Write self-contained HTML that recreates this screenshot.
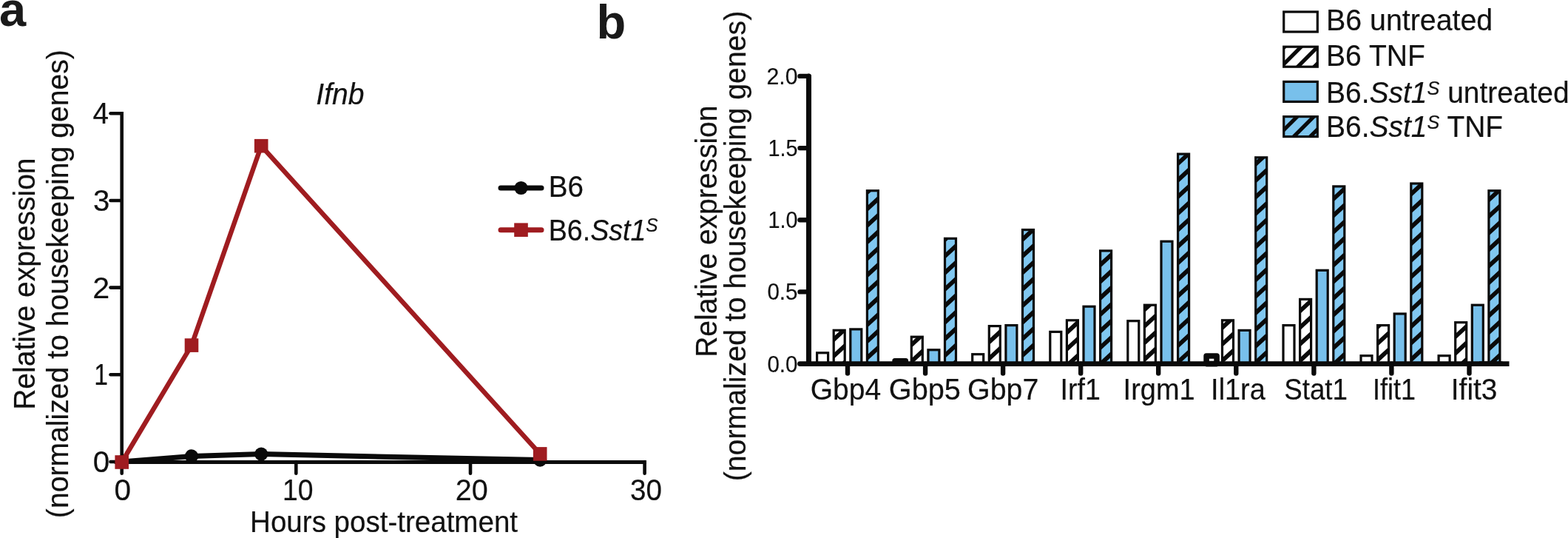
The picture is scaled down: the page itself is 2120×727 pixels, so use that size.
<!DOCTYPE html>
<html lang="en"><head><meta charset="utf-8"><title>Figure</title>
<style>
html,body{margin:0;padding:0;background:#fff;}
body{width:2120px;height:727px;overflow:hidden;}
svg{display:block;}
text{white-space:pre;stroke:#111;stroke-width:0.2px;stroke-linejoin:round;}
</style></head><body>
<svg width="2120" height="727" viewBox="0 0 2120 727" font-family='"Liberation Sans", Arial, Helvetica, sans-serif' fill="#111">
<rect width="2120" height="727" fill="#fff"/>
<g id="panelA">
<text x="-0.9" y="35.2" font-size="65" font-weight="bold" fill="#1a1a1a" style="stroke-width:0">a</text>
<text transform="translate(427.35,141.10) scale(0.9762,1)" font-size="40" font-style="italic">Ifnb</text>
<text transform="translate(46.80,553.83) rotate(-90) scale(0.9755,1)" font-size="40">Relative expression</text>
<text transform="translate(92.10,700.14) rotate(-90) scale(0.9785,1)" font-size="40">(normalized to housekeeping genes)</text>
<g stroke="#0a0a0a" stroke-width="4.6" fill="none" stroke-linecap="butt">
<path d="M164.7 151.0 V626.3"/>
<path d="M149.5 624.0 H164.7" stroke-linecap="round"/>
<path d="M154.7 624.4 H873.9" stroke-width="5.0"/>
<path d="M149.5 506.3 H164.7" stroke-linecap="round"/>
<path d="M149.5 388.6 H164.7" stroke-linecap="round"/>
<path d="M149.5 271.0 H164.7" stroke-linecap="round"/>
<path d="M149.5 153.3 H164.7" stroke-linecap="round"/>
<path d="M164.7 624.0 V639.8" stroke-linecap="round"/>
<path d="M400.3 624.0 V639.8" stroke-linecap="round"/>
<path d="M636.0 624.0 V639.8" stroke-linecap="round"/>
<path d="M871.6 624.0 V639.8" stroke-linecap="round"/>
</g>
<text transform="translate(125.63,638.00) scale(0.9842,1)" font-size="41">0</text>
<text transform="translate(127.33,520.33) scale(0.8222,1)" font-size="41">1</text>
<text transform="translate(125.19,402.65) scale(1.0053,1)" font-size="41">2</text>
<text transform="translate(126.04,284.98) scale(0.9789,1)" font-size="41">3</text>
<text transform="translate(125.56,167.30) scale(0.9429,1)" font-size="41">4</text>
<text transform="translate(154.42,676.10) scale(0.9895,1)" font-size="41">0</text>
<text transform="translate(382.07,676.10) scale(0.9098,1)" font-size="41">10</text>
<text transform="translate(615.77,676.10) scale(0.9643,1)" font-size="41">20</text>
<text transform="translate(852.11,676.10) scale(0.9429,1)" font-size="41">30</text>
<text transform="translate(338.11,718.60) scale(0.9637,1)" font-size="40">Hours post-treatment</text>
<polyline points="164.7,624.0 259.0,616.4 353.2,613.6 730.2,621.6" fill="none" stroke="#0a0a0a" stroke-width="7" stroke-linejoin="round"/>
<circle cx="164.7" cy="624.0" r="9.1" fill="#0a0a0a"/>
<circle cx="259.0" cy="616.4" r="9.1" fill="#0a0a0a"/>
<circle cx="353.2" cy="613.6" r="9.1" fill="#0a0a0a"/>
<circle cx="730.2" cy="621.6" r="9.1" fill="#0a0a0a"/>
<polyline points="164.7,624.5 259.0,466.6 353.2,197.2 730.2,613.4" fill="none" stroke="#9f1c20" stroke-width="6.4" stroke-linejoin="miter"/>
<rect x="155.4" y="615.2" width="18.6" height="18.6" fill="#9f1c20"/>
<rect x="249.7" y="457.3" width="18.6" height="18.6" fill="#9f1c20"/>
<rect x="343.9" y="187.9" width="18.6" height="18.6" fill="#9f1c20"/>
<rect x="720.9" y="604.1" width="18.6" height="18.6" fill="#9f1c20"/>
<path d="M677 254 H732" stroke="#0a0a0a" stroke-width="7" stroke-linecap="round"/>
<circle cx="704.5" cy="254" r="9.1" fill="#0a0a0a"/>
<text transform="translate(741.70,266.20) scale(0.9659,1)" font-size="40">B6</text>
<path d="M677 310.7 H732" stroke="#9f1c20" stroke-width="7" stroke-linecap="round"/>
<rect x="695.2" y="301.4" width="18.6" height="18.6" fill="#9f1c20"/>
<text transform="translate(741.78,324.90) scale(0.9396,1)" font-size="40">B6.<tspan font-style="italic">Sst1</tspan><tspan font-style="italic" font-size="26" dy="-11.5">S</tspan></text>
</g>
<g id="panelB">
<text x="806.4" y="52.3" font-size="65" font-weight="bold" fill="#1a1a1a" style="stroke-width:0">b</text>
<text transform="translate(969.20,482.82) rotate(-90) scale(0.9749,1)" font-size="40">Relative expression</text>
<text transform="translate(1007.50,650.35) rotate(-90) scale(0.9829,1)" font-size="40">(normalized to housekeeping genes)</text>
<defs>
</defs>
<rect x="1104.6" y="476.8" width="15.0" height="14.8" fill="#fff"/>
<rect x="1104.6" y="476.8" width="15.0" height="14.8" fill="none" stroke="#0a0a0a" stroke-width="3.2" stroke-linejoin="miter"/>
<rect x="1127.2" y="446.3" width="15.0" height="45.3" fill="#fff"/>
<clipPath id="c1"><rect x="1127.2" y="446.3" width="15.0" height="45.3"/></clipPath>
<g clip-path="url(#c1)" stroke="#0a0a0a" stroke-width="5.8">
<path d="M1114.9 425.4 L1154.9 388.6"/>
<path d="M1114.9 447.7 L1154.9 410.9"/>
<path d="M1114.9 470.1 L1154.9 433.3"/>
<path d="M1114.9 492.5 L1154.9 455.7"/>
<path d="M1114.9 514.8 L1154.9 478.0"/>
<path d="M1114.9 537.2 L1154.9 500.4"/>
</g>
<rect x="1127.2" y="446.3" width="15.0" height="45.3" fill="none" stroke="#0a0a0a" stroke-width="3.2" stroke-linejoin="miter"/>
<rect x="1149.8" y="444.9" width="15.0" height="46.7" fill="#78c0eb"/>
<rect x="1149.8" y="444.9" width="15.0" height="46.7" fill="none" stroke="#0a0a0a" stroke-width="3.2" stroke-linejoin="miter"/>
<rect x="1172.4" y="257.7" width="15.0" height="233.9" fill="#80c7f0"/>
<clipPath id="c2"><rect x="1172.4" y="257.7" width="15.0" height="233.9"/></clipPath>
<g clip-path="url(#c2)" stroke="#0a0a0a" stroke-width="5.8">
<path d="M1160.1 226.6 L1200.1 189.8"/>
<path d="M1160.1 248.9 L1200.1 212.1"/>
<path d="M1160.1 271.3 L1200.1 234.5"/>
<path d="M1160.1 293.7 L1200.1 256.9"/>
<path d="M1160.1 316.1 L1200.1 279.3"/>
<path d="M1160.1 338.4 L1200.1 301.6"/>
<path d="M1160.1 360.8 L1200.1 324.0"/>
<path d="M1160.1 383.2 L1200.1 346.4"/>
<path d="M1160.1 405.5 L1200.1 368.7"/>
<path d="M1160.1 427.9 L1200.1 391.1"/>
<path d="M1160.1 450.3 L1200.1 413.5"/>
<path d="M1160.1 472.6 L1200.1 435.8"/>
<path d="M1160.1 495.0 L1200.1 458.2"/>
<path d="M1160.1 517.4 L1200.1 480.6"/>
<path d="M1160.1 539.8 L1200.1 503.0"/>
</g>
<rect x="1172.4" y="257.7" width="15.0" height="233.9" fill="none" stroke="#0a0a0a" stroke-width="3.2" stroke-linejoin="miter"/>
<text transform="translate(1095.75,540.40) scale(0.9758,1)" font-size="40">Gbp4</text>
<rect x="1209.8" y="487.5" width="14.8" height="4.1" fill="#fff" stroke="#0a0a0a" stroke-width="7.0" stroke-linejoin="round"/>
<rect x="1232.3" y="455.2" width="15.0" height="36.4" fill="#fff"/>
<clipPath id="c3"><rect x="1232.3" y="455.2" width="15.0" height="36.4"/></clipPath>
<g clip-path="url(#c3)" stroke="#0a0a0a" stroke-width="5.8">
<path d="M1220.0 432.7 L1260.0 395.9"/>
<path d="M1220.0 455.0 L1260.0 418.2"/>
<path d="M1220.0 477.4 L1260.0 440.6"/>
<path d="M1220.0 499.8 L1260.0 463.0"/>
<path d="M1220.0 522.1 L1260.0 485.3"/>
<path d="M1220.0 544.5 L1260.0 507.7"/>
</g>
<rect x="1232.3" y="455.2" width="15.0" height="36.4" fill="none" stroke="#0a0a0a" stroke-width="3.2" stroke-linejoin="miter"/>
<rect x="1254.9" y="472.8" width="15.0" height="18.8" fill="#78c0eb"/>
<rect x="1254.9" y="472.8" width="15.0" height="18.8" fill="none" stroke="#0a0a0a" stroke-width="3.2" stroke-linejoin="miter"/>
<rect x="1277.5" y="322.3" width="15.0" height="169.3" fill="#80c7f0"/>
<clipPath id="c4"><rect x="1277.5" y="322.3" width="15.0" height="169.3"/></clipPath>
<g clip-path="url(#c4)" stroke="#0a0a0a" stroke-width="5.8">
<path d="M1265.2 290.4 L1305.2 253.6"/>
<path d="M1265.2 312.7 L1305.2 275.9"/>
<path d="M1265.2 335.1 L1305.2 298.3"/>
<path d="M1265.2 357.5 L1305.2 320.7"/>
<path d="M1265.2 379.9 L1305.2 343.1"/>
<path d="M1265.2 402.2 L1305.2 365.4"/>
<path d="M1265.2 424.6 L1305.2 387.8"/>
<path d="M1265.2 447.0 L1305.2 410.2"/>
<path d="M1265.2 469.3 L1305.2 432.5"/>
<path d="M1265.2 491.7 L1305.2 454.9"/>
<path d="M1265.2 514.1 L1305.2 477.3"/>
<path d="M1265.2 536.4 L1305.2 499.6"/>
</g>
<rect x="1277.5" y="322.3" width="15.0" height="169.3" fill="none" stroke="#0a0a0a" stroke-width="3.2" stroke-linejoin="miter"/>
<text transform="translate(1201.82,540.40) scale(0.9915,1)" font-size="40">Gbp5</text>
<rect x="1314.7" y="478.7" width="15.0" height="12.9" fill="#fff"/>
<rect x="1314.7" y="478.7" width="15.0" height="12.9" fill="none" stroke="#0a0a0a" stroke-width="3.2" stroke-linejoin="miter"/>
<rect x="1337.3" y="440.6" width="15.0" height="51.0" fill="#fff"/>
<clipPath id="c5"><rect x="1337.3" y="440.6" width="15.0" height="51.0"/></clipPath>
<g clip-path="url(#c5)" stroke="#0a0a0a" stroke-width="5.8">
<path d="M1325.0 406.4 L1365.0 369.6"/>
<path d="M1325.0 428.8 L1365.0 392.0"/>
<path d="M1325.0 451.2 L1365.0 414.4"/>
<path d="M1325.0 473.5 L1365.0 436.7"/>
<path d="M1325.0 495.9 L1365.0 459.1"/>
<path d="M1325.0 518.3 L1365.0 481.5"/>
<path d="M1325.0 540.6 L1365.0 503.8"/>
</g>
<rect x="1337.3" y="440.6" width="15.0" height="51.0" fill="none" stroke="#0a0a0a" stroke-width="3.2" stroke-linejoin="miter"/>
<rect x="1359.9" y="439.6" width="15.0" height="52.0" fill="#78c0eb"/>
<rect x="1359.9" y="439.6" width="15.0" height="52.0" fill="none" stroke="#0a0a0a" stroke-width="3.2" stroke-linejoin="miter"/>
<rect x="1382.5" y="310.5" width="15.0" height="181.1" fill="#80c7f0"/>
<clipPath id="c6"><rect x="1382.5" y="310.5" width="15.0" height="181.1"/></clipPath>
<g clip-path="url(#c6)" stroke="#0a0a0a" stroke-width="5.8">
<path d="M1370.2 290.2 L1410.2 253.4"/>
<path d="M1370.2 312.6 L1410.2 275.8"/>
<path d="M1370.2 334.9 L1410.2 298.1"/>
<path d="M1370.2 357.3 L1410.2 320.5"/>
<path d="M1370.2 379.7 L1410.2 342.9"/>
<path d="M1370.2 402.1 L1410.2 365.2"/>
<path d="M1370.2 424.4 L1410.2 387.6"/>
<path d="M1370.2 446.8 L1410.2 410.0"/>
<path d="M1370.2 469.2 L1410.2 432.4"/>
<path d="M1370.2 491.5 L1410.2 454.7"/>
<path d="M1370.2 513.9 L1410.2 477.1"/>
<path d="M1370.2 536.3 L1410.2 499.5"/>
</g>
<rect x="1382.5" y="310.5" width="15.0" height="181.1" fill="none" stroke="#0a0a0a" stroke-width="3.2" stroke-linejoin="miter"/>
<text transform="translate(1308.03,540.40) scale(0.9851,1)" font-size="40">Gbp7</text>
<rect x="1419.8" y="448.4" width="15.0" height="43.2" fill="#fff"/>
<rect x="1419.8" y="448.4" width="15.0" height="43.2" fill="none" stroke="#0a0a0a" stroke-width="3.2" stroke-linejoin="miter"/>
<rect x="1442.4" y="432.8" width="15.0" height="58.8" fill="#fff"/>
<clipPath id="c7"><rect x="1442.4" y="432.8" width="15.0" height="58.8"/></clipPath>
<g clip-path="url(#c7)" stroke="#0a0a0a" stroke-width="5.8">
<path d="M1430.1 393.6 L1470.1 356.8"/>
<path d="M1430.1 416.0 L1470.1 379.2"/>
<path d="M1430.1 438.4 L1470.1 401.6"/>
<path d="M1430.1 460.7 L1470.1 423.9"/>
<path d="M1430.1 483.1 L1470.1 446.3"/>
<path d="M1430.1 505.5 L1470.1 468.7"/>
<path d="M1430.1 527.8 L1470.1 491.0"/>
<path d="M1430.1 550.2 L1470.1 513.4"/>
</g>
<rect x="1442.4" y="432.8" width="15.0" height="58.8" fill="none" stroke="#0a0a0a" stroke-width="3.2" stroke-linejoin="miter"/>
<rect x="1465.0" y="414.2" width="15.0" height="77.4" fill="#78c0eb"/>
<rect x="1465.0" y="414.2" width="15.0" height="77.4" fill="none" stroke="#0a0a0a" stroke-width="3.2" stroke-linejoin="miter"/>
<rect x="1487.6" y="338.9" width="15.0" height="152.7" fill="#80c7f0"/>
<clipPath id="c8"><rect x="1487.6" y="338.9" width="15.0" height="152.7"/></clipPath>
<g clip-path="url(#c8)" stroke="#0a0a0a" stroke-width="5.8">
<path d="M1475.3 302.2 L1515.3 265.4"/>
<path d="M1475.3 324.6 L1515.3 287.8"/>
<path d="M1475.3 346.9 L1515.3 310.1"/>
<path d="M1475.3 369.3 L1515.3 332.5"/>
<path d="M1475.3 391.7 L1515.3 354.9"/>
<path d="M1475.3 414.0 L1515.3 377.2"/>
<path d="M1475.3 436.4 L1515.3 399.6"/>
<path d="M1475.3 458.8 L1515.3 422.0"/>
<path d="M1475.3 481.1 L1515.3 444.3"/>
<path d="M1475.3 503.5 L1515.3 466.7"/>
<path d="M1475.3 525.9 L1515.3 489.1"/>
<path d="M1475.3 548.3 L1515.3 511.5"/>
</g>
<rect x="1487.6" y="338.9" width="15.0" height="152.7" fill="none" stroke="#0a0a0a" stroke-width="3.2" stroke-linejoin="miter"/>
<text transform="translate(1433.55,540.40) scale(0.9385,1)" font-size="40">Irf1</text>
<rect x="1524.8" y="433.7" width="15.0" height="57.9" fill="#fff"/>
<rect x="1524.8" y="433.7" width="15.0" height="57.9" fill="none" stroke="#0a0a0a" stroke-width="3.2" stroke-linejoin="miter"/>
<rect x="1547.4" y="412.2" width="15.0" height="79.4" fill="#fff"/>
<clipPath id="c9"><rect x="1547.4" y="412.2" width="15.0" height="79.4"/></clipPath>
<g clip-path="url(#c9)" stroke="#0a0a0a" stroke-width="5.8">
<path d="M1535.1 385.0 L1575.1 348.2"/>
<path d="M1535.1 407.4 L1575.1 370.6"/>
<path d="M1535.1 429.8 L1575.1 393.0"/>
<path d="M1535.1 452.1 L1575.1 415.3"/>
<path d="M1535.1 474.5 L1575.1 437.7"/>
<path d="M1535.1 496.9 L1575.1 460.1"/>
<path d="M1535.1 519.2 L1575.1 482.4"/>
<path d="M1535.1 541.6 L1575.1 504.8"/>
</g>
<rect x="1547.4" y="412.2" width="15.0" height="79.4" fill="none" stroke="#0a0a0a" stroke-width="3.2" stroke-linejoin="miter"/>
<rect x="1570.0" y="326.2" width="15.0" height="165.4" fill="#78c0eb"/>
<rect x="1570.0" y="326.2" width="15.0" height="165.4" fill="none" stroke="#0a0a0a" stroke-width="3.2" stroke-linejoin="miter"/>
<rect x="1592.6" y="208.1" width="15.0" height="283.5" fill="#80c7f0"/>
<clipPath id="c10"><rect x="1592.6" y="208.1" width="15.0" height="283.5"/></clipPath>
<g clip-path="url(#c10)" stroke="#0a0a0a" stroke-width="5.8">
<path d="M1580.3 187.6 L1620.3 150.8"/>
<path d="M1580.3 210.0 L1620.3 173.2"/>
<path d="M1580.3 232.4 L1620.3 195.6"/>
<path d="M1580.3 254.7 L1620.3 217.9"/>
<path d="M1580.3 277.1 L1620.3 240.3"/>
<path d="M1580.3 299.5 L1620.3 262.7"/>
<path d="M1580.3 321.8 L1620.3 285.0"/>
<path d="M1580.3 344.2 L1620.3 307.4"/>
<path d="M1580.3 366.6 L1620.3 329.8"/>
<path d="M1580.3 389.0 L1620.3 352.2"/>
<path d="M1580.3 411.3 L1620.3 374.5"/>
<path d="M1580.3 433.7 L1620.3 396.9"/>
<path d="M1580.3 456.1 L1620.3 419.3"/>
<path d="M1580.3 478.4 L1620.3 441.6"/>
<path d="M1580.3 500.8 L1620.3 464.0"/>
<path d="M1580.3 523.2 L1620.3 486.4"/>
<path d="M1580.3 545.5 L1620.3 508.7"/>
</g>
<rect x="1592.6" y="208.1" width="15.0" height="283.5" fill="none" stroke="#0a0a0a" stroke-width="3.2" stroke-linejoin="miter"/>
<text transform="translate(1518.60,540.40) scale(0.9500,1)" font-size="40">Irgm1</text>
<rect x="1631.1" y="481.0" width="14.0" height="10.6" fill="#fff" stroke="#0a0a0a" stroke-width="7.6" stroke-linejoin="round"/>
<rect x="1652.5" y="432.8" width="15.0" height="58.8" fill="#fff"/>
<clipPath id="c11"><rect x="1652.5" y="432.8" width="15.0" height="58.8"/></clipPath>
<g clip-path="url(#c11)" stroke="#0a0a0a" stroke-width="5.8">
<path d="M1640.2 409.4 L1680.2 372.6"/>
<path d="M1640.2 431.8 L1680.2 394.9"/>
<path d="M1640.2 454.1 L1680.2 417.3"/>
<path d="M1640.2 476.5 L1680.2 439.7"/>
<path d="M1640.2 498.9 L1680.2 462.1"/>
<path d="M1640.2 521.2 L1680.2 484.4"/>
<path d="M1640.2 543.6 L1680.2 506.8"/>
</g>
<rect x="1652.5" y="432.8" width="15.0" height="58.8" fill="none" stroke="#0a0a0a" stroke-width="3.2" stroke-linejoin="miter"/>
<rect x="1675.1" y="446.4" width="15.0" height="45.2" fill="#78c0eb"/>
<rect x="1675.1" y="446.4" width="15.0" height="45.2" fill="none" stroke="#0a0a0a" stroke-width="3.2" stroke-linejoin="miter"/>
<rect x="1697.7" y="212.8" width="15.0" height="278.8" fill="#80c7f0"/>
<clipPath id="c12"><rect x="1697.7" y="212.8" width="15.0" height="278.8"/></clipPath>
<g clip-path="url(#c12)" stroke="#0a0a0a" stroke-width="5.8">
<path d="M1685.4 188.1 L1725.4 151.3"/>
<path d="M1685.4 210.5 L1725.4 173.7"/>
<path d="M1685.4 232.9 L1725.4 196.1"/>
<path d="M1685.4 255.2 L1725.4 218.4"/>
<path d="M1685.4 277.6 L1725.4 240.8"/>
<path d="M1685.4 300.0 L1725.4 263.2"/>
<path d="M1685.4 322.3 L1725.4 285.5"/>
<path d="M1685.4 344.7 L1725.4 307.9"/>
<path d="M1685.4 367.1 L1725.4 330.3"/>
<path d="M1685.4 389.4 L1725.4 352.6"/>
<path d="M1685.4 411.8 L1725.4 375.0"/>
<path d="M1685.4 434.2 L1725.4 397.4"/>
<path d="M1685.4 456.6 L1725.4 419.8"/>
<path d="M1685.4 478.9 L1725.4 442.1"/>
<path d="M1685.4 501.3 L1725.4 464.5"/>
<path d="M1685.4 523.7 L1725.4 486.9"/>
<path d="M1685.4 546.0 L1725.4 509.2"/>
</g>
<rect x="1697.7" y="212.8" width="15.0" height="278.8" fill="none" stroke="#0a0a0a" stroke-width="3.2" stroke-linejoin="miter"/>
<text transform="translate(1637.11,540.40) scale(0.9473,1)" font-size="40">Il1ra</text>
<rect x="1735.0" y="439.6" width="15.0" height="52.0" fill="#fff"/>
<rect x="1735.0" y="439.6" width="15.0" height="52.0" fill="none" stroke="#0a0a0a" stroke-width="3.2" stroke-linejoin="miter"/>
<rect x="1757.6" y="404.4" width="15.0" height="87.2" fill="#fff"/>
<clipPath id="c13"><rect x="1757.6" y="404.4" width="15.0" height="87.2"/></clipPath>
<g clip-path="url(#c13)" stroke="#0a0a0a" stroke-width="5.8">
<path d="M1745.3 386.8 L1785.3 350.0"/>
<path d="M1745.3 409.2 L1785.3 372.4"/>
<path d="M1745.3 431.6 L1785.3 394.8"/>
<path d="M1745.3 453.9 L1785.3 417.1"/>
<path d="M1745.3 476.3 L1785.3 439.5"/>
<path d="M1745.3 498.7 L1785.3 461.9"/>
<path d="M1745.3 521.0 L1785.3 484.2"/>
<path d="M1745.3 543.4 L1785.3 506.6"/>
</g>
<rect x="1757.6" y="404.4" width="15.0" height="87.2" fill="none" stroke="#0a0a0a" stroke-width="3.2" stroke-linejoin="miter"/>
<rect x="1780.2" y="365.3" width="15.0" height="126.3" fill="#78c0eb"/>
<rect x="1780.2" y="365.3" width="15.0" height="126.3" fill="none" stroke="#0a0a0a" stroke-width="3.2" stroke-linejoin="miter"/>
<rect x="1802.8" y="251.9" width="15.0" height="239.7" fill="#80c7f0"/>
<clipPath id="c14"><rect x="1802.8" y="251.9" width="15.0" height="239.7"/></clipPath>
<g clip-path="url(#c14)" stroke="#0a0a0a" stroke-width="5.8">
<path d="M1790.5 213.1 L1830.5 176.3"/>
<path d="M1790.5 235.4 L1830.5 198.6"/>
<path d="M1790.5 257.8 L1830.5 221.0"/>
<path d="M1790.5 280.2 L1830.5 243.4"/>
<path d="M1790.5 302.6 L1830.5 265.8"/>
<path d="M1790.5 324.9 L1830.5 288.1"/>
<path d="M1790.5 347.3 L1830.5 310.5"/>
<path d="M1790.5 369.7 L1830.5 332.9"/>
<path d="M1790.5 392.0 L1830.5 355.2"/>
<path d="M1790.5 414.4 L1830.5 377.6"/>
<path d="M1790.5 436.8 L1830.5 400.0"/>
<path d="M1790.5 459.1 L1830.5 422.3"/>
<path d="M1790.5 481.5 L1830.5 444.7"/>
<path d="M1790.5 503.9 L1830.5 467.1"/>
<path d="M1790.5 526.3 L1830.5 489.5"/>
<path d="M1790.5 548.6 L1830.5 511.8"/>
</g>
<rect x="1802.8" y="251.9" width="15.0" height="239.7" fill="none" stroke="#0a0a0a" stroke-width="3.2" stroke-linejoin="miter"/>
<text transform="translate(1736.26,540.40) scale(0.9178,1)" font-size="40">Stat1</text>
<rect x="1840.0" y="480.7" width="15.0" height="10.9" fill="#fff"/>
<rect x="1840.0" y="480.7" width="15.0" height="10.9" fill="none" stroke="#0a0a0a" stroke-width="3.2" stroke-linejoin="miter"/>
<rect x="1862.6" y="439.6" width="15.0" height="52.0" fill="#fff"/>
<clipPath id="c15"><rect x="1862.6" y="439.6" width="15.0" height="52.0"/></clipPath>
<g clip-path="url(#c15)" stroke="#0a0a0a" stroke-width="5.8">
<path d="M1850.3 408.3 L1890.3 371.5"/>
<path d="M1850.3 430.7 L1890.3 393.9"/>
<path d="M1850.3 453.0 L1890.3 416.2"/>
<path d="M1850.3 475.4 L1890.3 438.6"/>
<path d="M1850.3 497.8 L1890.3 461.0"/>
<path d="M1850.3 520.1 L1890.3 483.3"/>
<path d="M1850.3 542.5 L1890.3 505.7"/>
</g>
<rect x="1862.6" y="439.6" width="15.0" height="52.0" fill="none" stroke="#0a0a0a" stroke-width="3.2" stroke-linejoin="miter"/>
<rect x="1885.2" y="424.0" width="15.0" height="67.6" fill="#78c0eb"/>
<rect x="1885.2" y="424.0" width="15.0" height="67.6" fill="none" stroke="#0a0a0a" stroke-width="3.2" stroke-linejoin="miter"/>
<rect x="1907.8" y="248.0" width="15.0" height="243.6" fill="#80c7f0"/>
<clipPath id="c16"><rect x="1907.8" y="248.0" width="15.0" height="243.6"/></clipPath>
<g clip-path="url(#c16)" stroke="#0a0a0a" stroke-width="5.8">
<path d="M1895.5 228.9 L1935.5 192.1"/>
<path d="M1895.5 251.2 L1935.5 214.4"/>
<path d="M1895.5 273.6 L1935.5 236.8"/>
<path d="M1895.5 296.0 L1935.5 259.2"/>
<path d="M1895.5 318.3 L1935.5 281.5"/>
<path d="M1895.5 340.7 L1935.5 303.9"/>
<path d="M1895.5 363.1 L1935.5 326.3"/>
<path d="M1895.5 385.5 L1935.5 348.7"/>
<path d="M1895.5 407.8 L1935.5 371.0"/>
<path d="M1895.5 430.2 L1935.5 393.4"/>
<path d="M1895.5 452.6 L1935.5 415.8"/>
<path d="M1895.5 474.9 L1935.5 438.1"/>
<path d="M1895.5 497.3 L1935.5 460.5"/>
<path d="M1895.5 519.7 L1935.5 482.9"/>
<path d="M1895.5 542.0 L1935.5 505.2"/>
</g>
<rect x="1907.8" y="248.0" width="15.0" height="243.6" fill="none" stroke="#0a0a0a" stroke-width="3.2" stroke-linejoin="miter"/>
<text transform="translate(1856.01,540.40) scale(0.8983,1)" font-size="40">Ifit1</text>
<rect x="1945.1" y="480.7" width="15.0" height="10.9" fill="#fff"/>
<rect x="1945.1" y="480.7" width="15.0" height="10.9" fill="none" stroke="#0a0a0a" stroke-width="3.2" stroke-linejoin="miter"/>
<rect x="1967.7" y="435.7" width="15.0" height="55.9" fill="#fff"/>
<clipPath id="c17"><rect x="1967.7" y="435.7" width="15.0" height="55.9"/></clipPath>
<g clip-path="url(#c17)" stroke="#0a0a0a" stroke-width="5.8">
<path d="M1955.4 399.2 L1995.4 362.4"/>
<path d="M1955.4 421.6 L1995.4 384.8"/>
<path d="M1955.4 443.9 L1995.4 407.1"/>
<path d="M1955.4 466.3 L1995.4 429.5"/>
<path d="M1955.4 488.7 L1995.4 451.9"/>
<path d="M1955.4 511.1 L1995.4 474.3"/>
<path d="M1955.4 533.4 L1995.4 496.6"/>
<path d="M1955.4 555.8 L1995.4 519.0"/>
</g>
<rect x="1967.7" y="435.7" width="15.0" height="55.9" fill="none" stroke="#0a0a0a" stroke-width="3.2" stroke-linejoin="miter"/>
<rect x="1990.3" y="412.2" width="15.0" height="79.4" fill="#78c0eb"/>
<rect x="1990.3" y="412.2" width="15.0" height="79.4" fill="none" stroke="#0a0a0a" stroke-width="3.2" stroke-linejoin="miter"/>
<rect x="2012.9" y="257.7" width="15.0" height="233.9" fill="#80c7f0"/>
<clipPath id="c18"><rect x="2012.9" y="257.7" width="15.0" height="233.9"/></clipPath>
<g clip-path="url(#c18)" stroke="#0a0a0a" stroke-width="5.8">
<path d="M2000.6 236.7 L2040.6 199.9"/>
<path d="M2000.6 259.0 L2040.6 222.2"/>
<path d="M2000.6 281.4 L2040.6 244.6"/>
<path d="M2000.6 303.8 L2040.6 267.0"/>
<path d="M2000.6 326.1 L2040.6 289.3"/>
<path d="M2000.6 348.5 L2040.6 311.7"/>
<path d="M2000.6 370.9 L2040.6 334.1"/>
<path d="M2000.6 393.2 L2040.6 356.4"/>
<path d="M2000.6 415.6 L2040.6 378.8"/>
<path d="M2000.6 438.0 L2040.6 401.2"/>
<path d="M2000.6 460.4 L2040.6 423.6"/>
<path d="M2000.6 482.7 L2040.6 445.9"/>
<path d="M2000.6 505.1 L2040.6 468.3"/>
<path d="M2000.6 527.5 L2040.6 490.7"/>
<path d="M2000.6 549.8 L2040.6 513.0"/>
</g>
<rect x="2012.9" y="257.7" width="15.0" height="233.9" fill="none" stroke="#0a0a0a" stroke-width="3.2" stroke-linejoin="miter"/>
<text transform="translate(1961.82,540.40) scale(0.9712,1)" font-size="40">Ifit3</text>
<g stroke="#0a0a0a" stroke-width="6.4" fill="none" stroke-linecap="round">
<path d="M1093.5 102.9 V491.6" stroke-width="7"/>
<path d="M1081.5 491.6 H2030" stroke-width="6.8"/>
<path d="M2000 491.6 H2040.5" stroke-linecap="butt" stroke-width="6.8"/>
<path d="M1081.5 394.4 H1093.5"/>
<path d="M1081.5 297.2 H1093.5"/>
<path d="M1081.5 200.1 H1093.5"/>
<path d="M1081.5 102.9 H1093.5"/>
<path d="M1146.0 491.6 V504.6"/>
<path d="M1251.1 491.6 V504.6"/>
<path d="M1356.1 491.6 V504.6"/>
<path d="M1461.2 491.6 V504.6"/>
<path d="M1566.2 491.6 V504.6"/>
<path d="M1671.3 491.6 V504.6"/>
<path d="M1776.4 491.6 V504.6"/>
<path d="M1881.4 491.6 V504.6"/>
<path d="M1986.5 491.6 V504.6"/>
</g>
<text transform="translate(1037.46,502.60) scale(0.9366,1)" font-size="31.5" style="stroke-width:0.2px">0.0</text>
<text transform="translate(1037.46,405.43) scale(0.9366,1)" font-size="31.5" style="stroke-width:0.2px">0.5</text>
<text transform="translate(1038.47,308.25) scale(0.9125,1)" font-size="31.5" style="stroke-width:0.2px">1.0</text>
<text transform="translate(1038.47,211.07) scale(0.9125,1)" font-size="31.5" style="stroke-width:0.2px">1.5</text>
<text transform="translate(1036.48,113.90) scale(0.9600,1)" font-size="31.5" style="stroke-width:0.2px">2.0</text>
<rect x="1735.7" y="16.0" width="45.6" height="27.0" fill="#fff"/>
<rect x="1735.7" y="16.0" width="45.6" height="27.0" fill="none" stroke="#0a0a0a" stroke-width="3.2"/>
<rect x="1735.7" y="63.2" width="45.6" height="27.0" fill="#fff"/>
<clipPath id="c19"><rect x="1735.7" y="63.2" width="45.6" height="27.0"/></clipPath>
<g clip-path="url(#c19)" stroke="#0a0a0a" stroke-width="5.2">
<path d="M1679.5 98.2 L1722.5 55.2"/>
<path d="M1701.8 98.2 L1744.8 55.2"/>
<path d="M1724.2 98.2 L1767.2 55.2"/>
<path d="M1746.6 98.2 L1789.6 55.2"/>
<path d="M1768.9 98.2 L1811.9 55.2"/>
<path d="M1791.3 98.2 L1834.3 55.2"/>
<path d="M1813.7 98.2 L1856.7 55.2"/>
</g>
<rect x="1735.7" y="63.2" width="45.6" height="27.0" fill="none" stroke="#0a0a0a" stroke-width="3.2"/>
<rect x="1735.7" y="110.4" width="45.6" height="27.0" fill="#78c0eb"/>
<rect x="1735.7" y="110.4" width="45.6" height="27.0" fill="none" stroke="#0a0a0a" stroke-width="3.2"/>
<rect x="1735.7" y="157.6" width="45.6" height="27.0" fill="#80c7f0"/>
<clipPath id="c20"><rect x="1735.7" y="157.6" width="45.6" height="27.0"/></clipPath>
<g clip-path="url(#c20)" stroke="#0a0a0a" stroke-width="5.2">
<path d="M1674.0 192.6 L1717.0 149.6"/>
<path d="M1696.4 192.6 L1739.4 149.6"/>
<path d="M1718.8 192.6 L1761.8 149.6"/>
<path d="M1741.2 192.6 L1784.2 149.6"/>
<path d="M1763.5 192.6 L1806.5 149.6"/>
<path d="M1785.9 192.6 L1828.9 149.6"/>
<path d="M1808.3 192.6 L1851.3 149.6"/>
</g>
<rect x="1735.7" y="157.6" width="45.6" height="27.0" fill="none" stroke="#0a0a0a" stroke-width="3.2"/>
<text transform="translate(1793.08,185.40) scale(0.9734,1)" font-size="40">B6.<tspan font-style="italic">Sst1</tspan><tspan font-style="italic" font-size="26" dy="-11.5">S</tspan><tspan dy="11.5"> TNF</tspan></text>
<text transform="translate(1793.05,41.30) scale(0.9830,1)" font-size="40">B6 untreated</text>
<text transform="translate(1793.07,89.00) scale(0.9767,1)" font-size="40">B6 TNF</text>
<text transform="translate(1793.08,139.30) scale(0.9734,1)" font-size="40">B6.<tspan font-style="italic">Sst1</tspan><tspan font-style="italic" font-size="26" dy="-11.5">S</tspan><tspan dy="11.5"> untreated</tspan></text>
</g>
</svg>
</body></html>
